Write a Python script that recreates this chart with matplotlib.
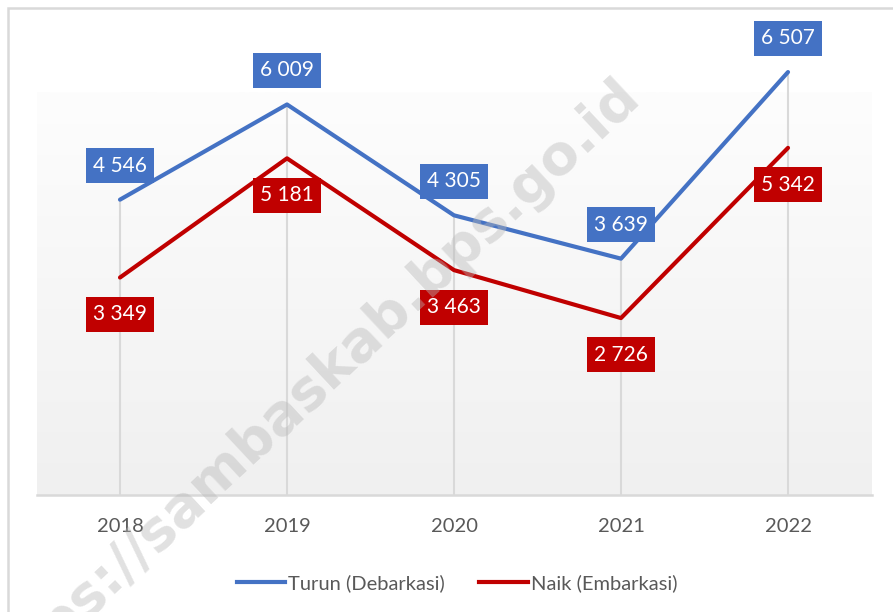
import matplotlib
matplotlib.use("Agg")
import matplotlib.pyplot as plt
import numpy as np
from matplotlib.patches import Rectangle
from matplotlib.lines import Line2D
from matplotlib.colors import LinearSegmentedColormap

years = ["2018", "2019", "2020", "2021", "2022"]
turun = [4546, 6009, 4305, 3639, 6507]
naik = [3349, 5181, 3463, 2726, 5342]
series_names = ["Turun (Debarkasi)", "Naik (Embarkasi)"]
watermark = "https://sambaskab.bps.go.id"

BLUE = "#4472C4"
RED = "#C00000"
GRID = "#D9D9D9"
FONT = ["Lato", "DejaVu Sans"]
plt.rcParams["font.family"] = FONT

W, H = 893, 612
fig = plt.figure(figsize=(W / 100, H / 100), dpi=100)
fig.patch.set_facecolor("white")

def fx(px):
    return px / W

def fy(py):
    return 1 - py / H

# outer chart border
fig.add_artist(Rectangle((fx(8), fy(650)), fx(900), fy(8) - fy(650),
                         transform=fig.transFigure, fill=False,
                         edgecolor=GRID, linewidth=1.8))

ax_left, ax_right = 36.5, 871.5
ax_bottom, ax_top = 495.4, 40.0
ax = fig.add_axes([fx(ax_left), fy(ax_bottom), fx(ax_right - ax_left),
                   (ax_bottom - ax_top) / H])
ax.set_facecolor("none")
x = np.arange(len(years))
ax.set_xlim(-0.5, len(years) - 0.5)
ax.set_ylim(0, 7000)

# gradient plot-area background
grad = np.linspace(0, 1, 256).reshape(-1, 1)
cmap = LinearSegmentedColormap.from_list("g", ["#F0F0F0", "#FDFDFD"])
top_frac = (ax_bottom - 93) / (ax_bottom - ax_top)
ax.imshow(grad, cmap=cmap, aspect="auto", origin="lower",
          extent=(0, 1, 0, top_frac), transform=ax.transAxes, zorder=0)

# drop lines
for xi, a, b in zip(x, turun, naik):
    ax.plot([xi, xi], [0, max(a, b)], color=GRID, lw=1.5, zorder=1)

ax.plot(x, turun, color=BLUE, lw=3.0, solid_capstyle="round", zorder=3)
ax.plot(x, naik, color=RED, lw=3.0, solid_capstyle="round", zorder=3)

for xi, v in zip(x, turun):
    ax.annotate(f"{v:,}".replace(",", " "), (xi, v), xytext=(0, 24.5),
                textcoords="offset points", ha="center", va="center",
                color="white", fontsize=15, zorder=5,
                bbox=dict(boxstyle="square,pad=0.36", fc=BLUE, ec="none"))
for xi, v in zip(x, naik):
    ax.annotate(f"{v:,}".replace(",", " "), (xi, v), xytext=(0, -26.6),
                textcoords="offset points", ha="center", va="center",
                color="white", fontsize=15, zorder=5,
                bbox=dict(boxstyle="square,pad=0.36", fc=RED, ec="none"))

for s in ["top", "left", "right"]:
    ax.spines[s].set_visible(False)
ax.spines["bottom"].set_color(GRID)
ax.spines["bottom"].set_linewidth(1.8)
ax.set_yticks([])
ax.set_xticks(x)
ax.set_xticklabels(years, fontsize=14.5, color="#595959")
ax.tick_params(axis="x", length=0, pad=16)

handles = [Line2D([], [], color=BLUE, lw=3.0), Line2D([], [], color=RED, lw=3.0)]
leg = fig.legend(handles, series_names, loc="center", bbox_to_anchor=(fx(457), fy(583)),
                 ncol=2, frameon=False, fontsize=14.5, handlelength=2.4,
                 handletextpad=0.15, columnspacing=1.7, labelcolor="#595959")

# watermark
fig.text(fx(632), fy(88), watermark, fontsize=40, fontweight="bold",
         family="DejaVu Sans", color="#B8B8B8", alpha=0.42, rotation=43,
         rotation_mode="anchor", ha="right", va="center", zorder=10)

fig.savefig("out.png", dpi=100)
